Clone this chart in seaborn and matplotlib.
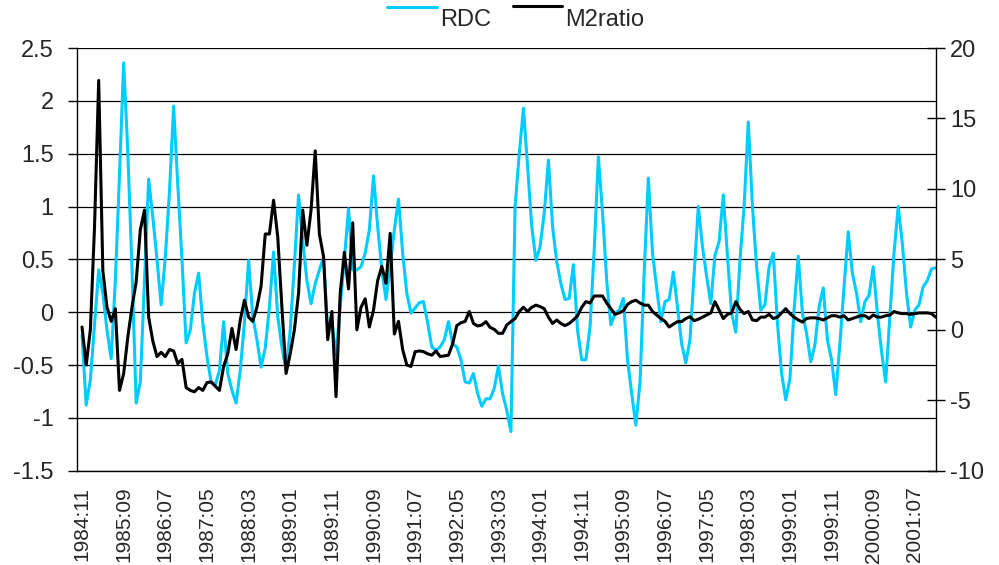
import numpy as np
import pandas as pd
import seaborn as sns
import matplotlib.pyplot as plt
from matplotlib.lines import Line2D

# monthly series, 1984:11 .. 2001:12
rdc = [
    -0.22, -0.88, -0.64, -0.12, 0.40, 0.18, -0.17, -0.44, 0.30, 1.30,
    2.36, 1.51, 0.41, -0.86, -0.66, 0.30, 1.26, 0.90, 0.50, 0.07,
    0.52, 1.14, 1.95, 1.20, 0.50, -0.29, -0.17, 0.18, 0.37, -0.10,
    -0.42, -0.66, -0.69, -0.55, -0.09, -0.58, -0.74, -0.86, -0.55, -0.10,
    0.49, -0.04, -0.26, -0.52, -0.34, 0.05, 0.57, -0.04, -0.33, -0.55,
    -0.17, 0.45, 1.11, 0.68, 0.30, 0.08, 0.27, 0.40, 0.52, -0.17,
    -0.10, -0.40, 0.05, 0.50, 0.98, 0.40, 0.40, 0.43, 0.56, 0.78,
    1.29, 0.81, 0.40, 0.12, 0.43, 0.78, 1.07, 0.56, 0.18, -0.01,
    0.04, 0.09, 0.10, -0.10, -0.33, -0.36, -0.33, -0.26, -0.09, -0.30,
    -0.33, -0.45, -0.66, -0.67, -0.58, -0.77, -0.89, -0.82, -0.82, -0.72,
    -0.51, -0.77, -0.93, -1.13, 1.00, 1.50, 1.93, 1.38, 0.81, 0.49,
    0.62, 0.94, 1.44, 0.81, 0.48, 0.27, 0.12, 0.13, 0.45, -0.17,
    -0.45, -0.45, -0.14, 0.59, 1.47, 0.94, 0.30, -0.12, -0.01, 0.02,
    0.13, -0.45, -0.77, -1.07, -0.66, 0.37, 1.27, 0.56, 0.23, -0.09,
    0.10, 0.12, 0.38, 0.05, -0.30, -0.48, -0.26, 0.37, 1.00, 0.62,
    0.34, 0.08, 0.54, 0.67, 1.11, 0.53, -0.01, -0.19, 0.49, 1.00,
    1.80, 1.00, 0.43, 0.02, 0.07, 0.43, 0.56, -0.10, -0.58, -0.83,
    -0.63, 0.02, 0.53, -0.01, -0.20, -0.47, -0.31, 0.05, 0.23, -0.26,
    -0.45, -0.78, -0.30, 0.24, 0.76, 0.37, 0.18, -0.09, 0.10, 0.16,
    0.43, -0.01, -0.37, -0.66, -0.04, 0.56, 1.00, 0.65, 0.18, -0.14,
    0.02, 0.07, 0.24, 0.30, 0.41, 0.42,
]

m2ratio = [
    0.2, -2.5, 0.0, 7.3, 17.7, 4.2, 1.6, 0.6, 1.5, -4.3,
    -3.1, -0.5, 1.6, 3.4, 7.1, 8.5, 0.9, -0.8, -1.9, -1.6,
    -1.9, -1.4, -1.5, -2.4, -2.1, -4.1, -4.3, -4.4, -4.1, -4.3,
    -3.75, -3.7, -4.0, -4.3, -2.6, -1.7, 0.1, -1.4, 0.7, 2.1,
    0.9, 0.6, 1.6, 3.1, 6.8, 6.8, 9.2, 6.6, 1.6, -3.1,
    -1.7, 0.0, 2.6, 8.5, 6.0, 8.5, 12.7, 6.8, 5.2, -0.7,
    1.3, -4.75, 2.6, 5.5, 2.9, 7.6, 0.0, 1.6, 2.2, 0.2,
    1.4, 3.5, 4.5, 3.3, 6.85, -0.3, 0.6, -1.4, -2.5, -2.6,
    -1.55, -1.5, -1.55, -1.7, -1.8, -1.5, -1.9, -1.85, -1.8, -1.0,
    0.3, 0.5, 0.6, 1.3, 0.45, 0.27, 0.34, 0.58, 0.17, 0.03,
    -0.25, -0.25, 0.34, 0.58, 0.8, 1.3, 1.6, 1.3, 1.6, 1.75,
    1.65, 1.5, 0.9, 0.45, 0.7, 0.45, 0.3, 0.45, 0.7, 1.0,
    1.6, 2.0, 1.9, 2.4, 2.4, 2.4, 1.9, 1.5, 1.1, 1.2,
    1.35, 1.8, 2.0, 2.1, 1.9, 1.75, 1.75, 1.3, 1.05, 0.8,
    0.6, 0.2, 0.4, 0.58, 0.58, 0.8, 0.93, 0.65, 0.75, 0.9,
    1.05, 1.2, 2.0, 1.4, 0.8, 1.1, 1.2, 2.0, 1.45, 1.15,
    1.3, 0.7, 0.65, 0.9, 0.9, 1.1, 0.8, 0.9, 1.2, 1.5,
    1.15, 0.9, 0.7, 0.55, 0.8, 0.85, 0.85, 0.8, 0.7, 0.85,
    1.0, 1.0, 0.9, 1.0, 0.7, 0.8, 0.9, 1.0, 1.0, 0.8,
    1.05, 0.9, 0.9, 1.0, 1.05, 1.3, 1.2, 1.15, 1.15, 1.1,
    1.15, 1.2, 1.2, 1.2, 1.15, 0.9,
]

tick_labels = [
    "1984:11", "1985:09", "1986:07", "1987:05", "1988:03", "1989:01",
    "1989:11", "1990:09", "1991:07", "1992:05", "1993:03", "1994:01",
    "1994:11", "1995:09", "1996:07", "1997:05", "1998:03", "1999:01",
    "1999:11", "2000:09", "2001:07",
]

left_ticks = [-1.5, -1, -0.5, 0, 0.5, 1, 1.5, 2, 2.5]
right_ticks = [-10, -5, 0, 5, 10, 15, 20]

BLUE = "#00CCFF"
LW = 2.2

sns.set_style("white")
plt.rcParams["font.family"] = ["Liberation Sans", "DejaVu Sans"]
plt.rcParams["axes.unicode_minus"] = False

df = pd.DataFrame({"t": np.arange(len(rdc)), "RDC": rdc, "M2ratio": m2ratio})

fig = plt.figure(figsize=(9.99, 5.65), dpi=100)
ax = fig.add_axes([0.0774, 0.1669, 0.8592, 0.7481])

sns.lineplot(data=df, x="t", y="RDC", ax=ax, color=BLUE, lw=LW, legend=False)
ax.set_ylim(-1.5, 2.5)
ax.set_yticks(left_ticks)
ax.set_yticklabels([f"{v:g}" for v in left_ticks], fontsize=17)
ax.grid(axis="y", color="black", lw=0.9)
ax.set_xlim(-1.13, len(rdc) - 1)
ax.set_xticks(np.arange(0, len(rdc), 10))
ax.set_xticklabels(tick_labels, rotation=90, fontsize=15)
ax.tick_params(axis="x", length=0, pad=11.5)
ax.tick_params(axis="y", direction="out", length=6.5, width=1, color="black", pad=10.5)
ax.set_xlabel("")
ax.set_ylabel("")
for s in ["left", "bottom"]:
    ax.spines[s].set_color("black")
    ax.spines[s].set_linewidth(1)
ax.spines["top"].set_visible(False)
ax.spines["right"].set_visible(False)

ax2 = ax.twinx()
sns.lineplot(data=df, x="t", y="M2ratio", ax=ax2, color="black", lw=LW, legend=False)
ax2.set_ylim(-10, 20)
ax2.set_yticks(right_ticks)
ax2.set_yticklabels([f"{v:g}" for v in right_ticks], fontsize=17)
ax2.tick_params(axis="y", direction="inout", length=13, width=1, color="black", pad=4)
ax2.set_ylabel("")
ax2.spines["right"].set_color("black")
ax2.spines["right"].set_linewidth(1)
ax2.spines["top"].set_visible(False)
ax2.spines["left"].set_visible(False)
ax2.spines["bottom"].set_visible(False)

# legend drawn the Excel way: key line sits above and left of its text
W, H = 999, 565
legend_items = [("RDC", BLUE, 387, 437, 6.5, 440), ("M2ratio", "black", 513, 562, 6.0, 565)]
for name, col, x0, x1, yl, xt in legend_items:
    fig.add_artist(Line2D([x0 / W, x1 / W], [1 - yl / H, 1 - yl / H], color=col, lw=LW,
                          transform=fig.transFigure))
    fig.text(xt / W, 1 - 20.5 / H, name, fontsize=17, ha="left", va="center")

fig.savefig("out.png", dpi=100)
